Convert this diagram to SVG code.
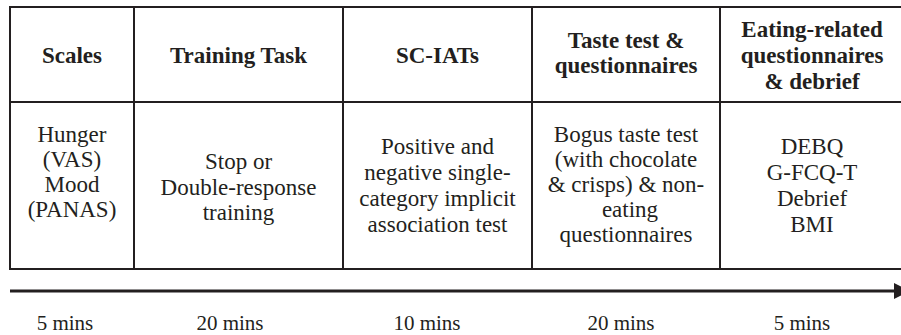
<svg xmlns="http://www.w3.org/2000/svg" width="901" height="335" viewBox="0 0 901 335">
<style>
.grid{stroke:#231f20;stroke-width:2;fill:none}
text{font-family:'Liberation Serif','Tinos','DejaVu Serif',serif;font-size:23px;fill:#231f20;text-anchor:middle}
.h{font-weight:bold}
.m{font-size:21px}
</style>
<rect width="901" height="335" fill="#ffffff"/>
<g id="table-grid">
<path class="grid" d="M10,7H901M10,102H901M10,269H901M10,6V270M134,6V270M343,6V270M532,6V270M720,6V270"/>
</g>
<g id="scales" font-family="Liberation Serif, serif">
<text class="h" x="72" y="63">Scales</text>
<text x="72" y="142">Hunger</text>
<text x="72" y="167">(VAS)</text>
<text x="72" y="192">Mood</text>
<text x="72" y="217">(PANAS)</text>
</g>
<g id="training">
<text class="h" x="238.5" y="63">Training Task</text>
<text x="238.5" y="169">Stop or</text>
<text x="238.5" y="195">Double-response</text>
<text x="238.5" y="220">training</text>
</g>
<g id="sciats">
<text class="h" x="437.5" y="63">SC-IATs</text>
<text x="437.5" y="154">Positive and</text>
<text x="437.5" y="180">negative single-</text>
<text x="437.5" y="206">category implicit</text>
<text x="437.5" y="232">association test</text>
</g>
<g id="taste">
<text class="h" x="626" y="48">Taste test &amp;</text>
<text class="h" x="626" y="73">questionnaires</text>
<text x="626" y="142">Bogus taste test</text>
<text x="626" y="167">(with chocolate</text>
<text x="626" y="192">&amp; crisps) &amp; non-</text>
<text x="630" y="217">eating</text>
<text x="626" y="242">questionnaires</text>
</g>
<g id="eating">
<text class="h" x="812" y="37">Eating-related</text>
<text class="h" x="812" y="63">questionnaires</text>
<text class="h" x="812" y="89">&amp; debrief</text>
<text x="812" y="154">DEBQ</text>
<text x="812" y="180">G-FCQ-T</text>
<text x="812" y="206">Debrief</text>
<text x="812" y="232">BMI</text>
</g>
<g id="connectors">
<line x1="10" y1="291" x2="896" y2="291" stroke="#231f20" stroke-width="3"/>
<polygon points="894,283 910,291 894,299" fill="#231f20"/>
</g>
<g id="durations">
<text class="m" x="65" y="330">5 mins</text>
<text class="m" x="230" y="330">20 mins</text>
<text class="m" x="427" y="330">10 mins</text>
<text class="m" x="621" y="330">20 mins</text>
<text class="m" x="802" y="330">5 mins</text>
</g>
</svg>
